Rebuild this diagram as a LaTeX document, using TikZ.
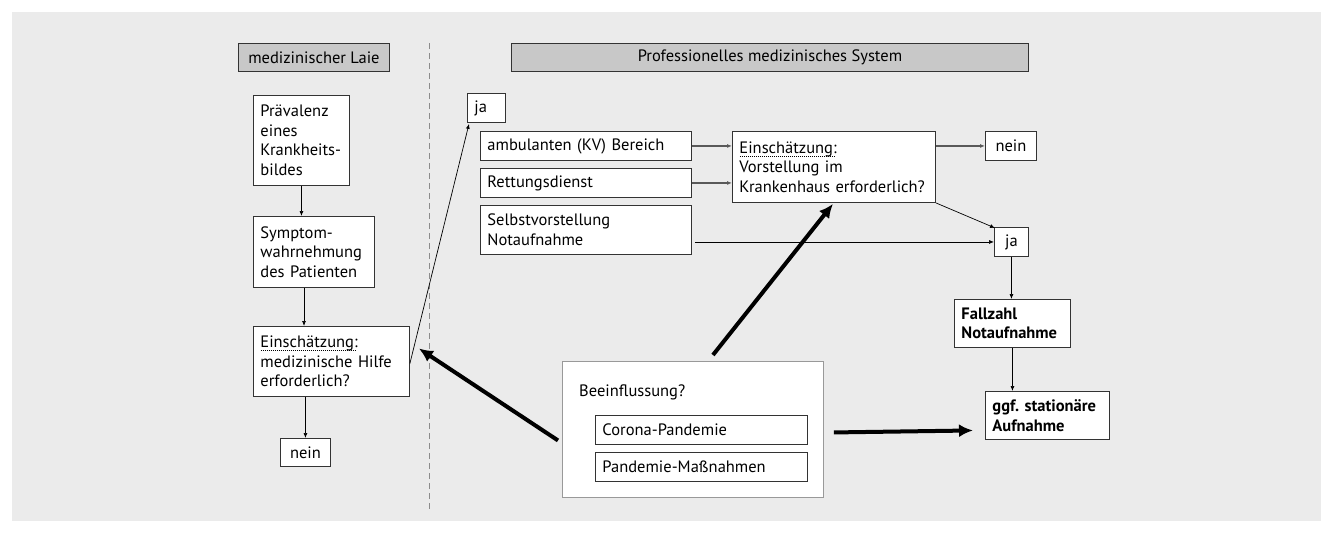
\documentclass[tikz,border=0pt]{standalone}
\usepackage{fontspec}
\setmainfont{PT Sans}
\usetikzlibrary{arrows.meta}
\definecolor{bgc}{HTML}{EBEBEB}
\definecolor{hdr}{HTML}{C8C8C8}
\definecolor{edge}{HTML}{333333}
\newsavebox\dulbox
\newcommand{\dotul}[1]{\sbox\dulbox{#1}\rlap{\raisebox{-3.5pt}{\hbox to \wd\dulbox{\leaders\hbox to 2pt{\hss\rule{1pt}{0.7pt}\hss}\hfill}}}\usebox\dulbox}
\newcommand{\fs}{\fontsize{16.5}{19.5}\selectfont}
\tikzset{
  box/.style={draw=edge, fill=white, line width=0.9pt, anchor=north west, inner xsep=7pt, inner ysep=3pt,
    font=\fs, align=left},
  hbox/.style={draw=edge, fill=hdr, line width=0.9pt, anchor=north west, inner sep=0pt,
    font=\fs, align=center},
  arr/.style={-{Latex[length=5pt,width=4pt]}, line width=0.7pt, draw=black},
  garr/.style={-{Latex[length=5pt,width=4pt]}, line width=1.4pt, draw=black!65},
  bigarr/.style={-{Latex[length=14pt,width=13pt]}, line width=4pt, draw=black},
}
\frenchspacing
\begin{document}
\begin{tikzpicture}[x=1pt,y=-1pt]
\useasboundingbox (0,0) rectangle (1333,536);
\fill[bgc] (12,12) rectangle (1321,521);
% dashed divider
\coordinate (dtop) at (429,43);
\coordinate (dbot) at (429,510);
\draw[black!45, line width=1pt, dash pattern=on 6pt off 4pt] (dtop) -- (dbot);
% headers
\node[hbox, minimum width=151pt, minimum height=28pt] (hL) at (238,43) {medizinischer Laie};
\node[hbox, minimum width=517pt, minimum height=28pt] (hR) at (511,43) {Professionelles medizinisches System};
% left column
\node[box, minimum width=96pt, minimum height=90pt, text width=82pt] (prae) at (253,95) {Prävalenz\\eines\\Krankheits-\\bildes};
\node[box, minimum width=121pt, minimum height=71pt, text width=107pt] (sym) at (253,216) {Symptom-\\wahrnehmung\\des Patienten};
\node[box, minimum width=156pt, minimum height=70pt, text width=142pt] (ein1) at (253,326) {\dotul{Einschätzung:}\\medizinische Hilfe\\erforderlich?};
\node[box, minimum width=50pt, minimum height=28pt, text width=36pt, align=center] (nein1) at (280,438) {nein};
% right column
\node[box, minimum width=38pt, minimum height=29pt, text width=24pt] (ja1) at (467,93) {ja};
\node[box, minimum width=211pt, minimum height=29pt, text width=197pt] (amb) at (480,131) {ambulanten (KV) Bereich};
\node[box, minimum width=211pt, minimum height=29pt, text width=197pt] (ret) at (480,168) {Rettungsdienst};
\node[box, minimum width=211pt, minimum height=49pt, text width=197pt] (selbst) at (480,205) {Selbstvorstellung\\Notaufnahme};
\node[box, minimum width=203pt, minimum height=71pt, text width=189pt] (ein2) at (732,131) {\dotul{Einschätzung:}\\Vorstellung im\\Krankenhaus erforderlich?};
\node[box, minimum width=51pt, minimum height=29pt, text width=37pt, align=center] (nein2) at (985,131) {nein};
\node[box, minimum width=34pt, minimum height=29pt, text width=20pt, align=center] (ja2) at (994,227) {ja};
\node[box, minimum width=116pt, minimum height=48pt, text width=102pt, font=\fs\bfseries] (fall) at (954,299) {Fallzahl\\Notaufnahme};
\node[box, minimum width=124pt, minimum height=48pt, text width=110pt, font=\fs\bfseries] (ggf) at (985,391) {ggf. stationäre\\Aufnahme};
% influence box
\node[box, draw=black!40, minimum width=261pt, minimum height=136pt] (bee) at (562,361) {};
\node[anchor=west, inner sep=0pt, font=\fs] (beet) at (579,392) {Beeinflussung?};
\node[box, minimum width=212pt, minimum height=29pt, text width=198pt] (cor) at (595,415) {Corona-Pandemie};
\node[box, minimum width=212pt, minimum height=29pt, text width=198pt] (pan) at (595,452) {Pandemie-Maßnahmen};
% thin connectors
\draw[arr] (prae.south) -- (prae.south |- sym.north);
\draw[arr] ([xshift=51pt]sym.south west) -- ([xshift=51pt]sym.south west |- ein1.north);
\draw[arr] (ein1.south -| nein1.north) -- (nein1.north);
\draw[arr] ([yshift=-2pt]ein1.east) -- ([xshift=2pt,yshift=-1pt]ja1.south west);
\draw[garr] (amb.east) -- (amb.east -| ein2.west);
\draw[garr] (ret.east) -- (ret.east -| ein2.west);
\draw[garr] (ein2.east |- nein2.west) -- (nein2.west);
\draw[arr] ([xshift=3pt]selbst.east |- ja2.west) -- (ja2.west);
\draw[arr] (ein2.south east) -- ([xshift=1pt,yshift=-1pt]ja2.north west);
\draw[arr] (ja2.south) -- (ja2.south |- fall.north);
\draw[arr] (fall.south) -- (fall.south |- ggf.north);
% thick influence arrows
\draw[bigarr] ([xshift=20pt,yshift=6pt]bee.north) -- ([xshift=-1pt,yshift=-1pt]ein2.south);
\draw[bigarr] ([xshift=-4pt,yshift=-11pt]bee.west) -- ([xshift=9pt,yshift=13pt]ein1.east);
\draw[bigarr] ([xshift=10pt,yshift=-3pt]bee.east) -- ([xshift=-12pt,yshift=-15pt]ggf.west);
\end{tikzpicture}
\end{document}
